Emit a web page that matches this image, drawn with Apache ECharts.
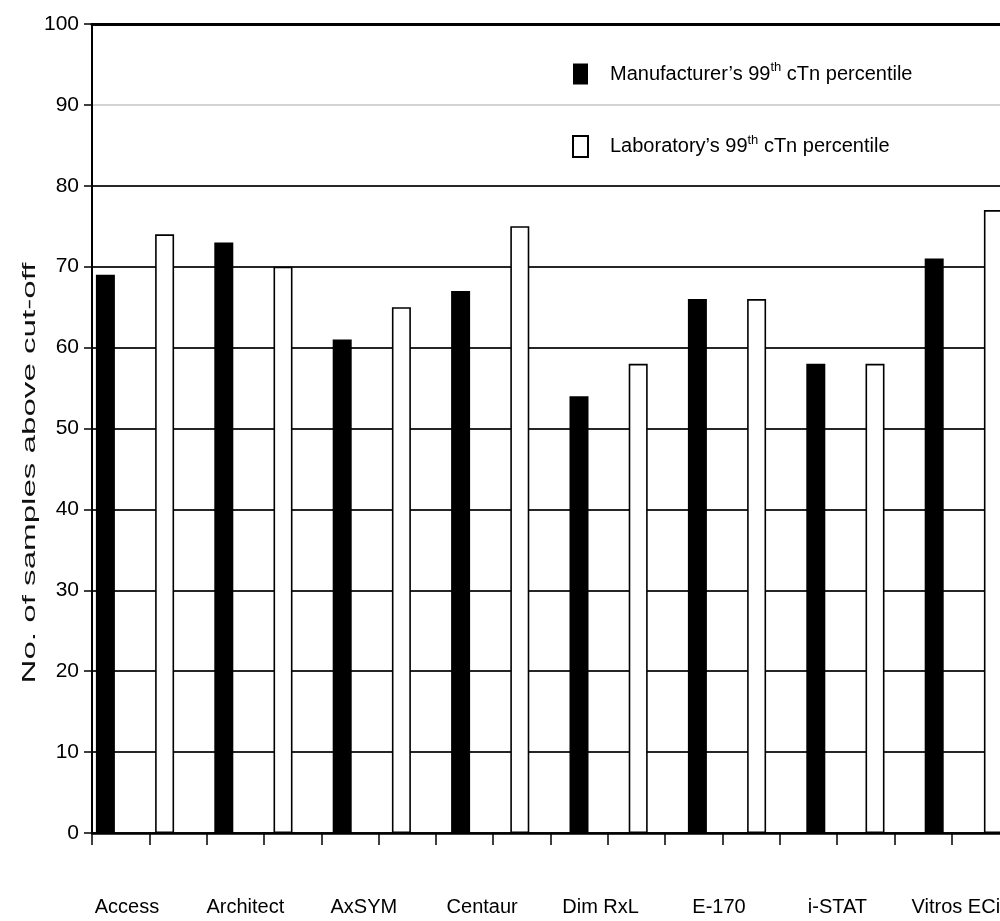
<!DOCTYPE html>
<html>
<head>
<meta charset="utf-8">
<script src="https://cdn.jsdelivr.net/npm/echarts/dist/echarts.min.js"></script>
<style>
html,body{margin:0;padding:0;background:#fff;overflow:hidden;width:1000px;height:921px;}
#chart{width:1030px;height:921px;}
</style>
</head>
<body>
<div id="chart"></div>
<script>
// ---- data ----
const categories = ['Access', 'Architect', 'AxSYM', 'Centaur', 'Dim RxL', 'E-170', 'i-STAT', 'Vitros ECi'];
const manufacturerValues = [69, 73, 61, 67, 54, 66, 58, 71];
const laboratoryValues = [74, 70, 65, 75, 58, 66, 58, 77];
const legendManufacturer = ['Manufacturer\u2019s 99', 'th', ' cTn percentile'];
const legendLaboratory = ['Laboratory\u2019s 99', 'th', ' cTn percentile'];
const yAxisTitle = 'No. of samples above cut-off';
const yMin = 0, yMax = 100, yStep = 10;
const tickSlots = ['', '', '', '', '', '', '', '', '', '', '', '', '', '', '', ''];

const FONT = '"Liberation Sans", Arial, Helvetica, sans-serif';
const nameManu = legendManufacturer.join('');
const nameLab = legendLaboratory.join('');
const legendParts = {};
legendParts[nameManu] = legendManufacturer;
legendParts[nameLab] = legendLaboratory;

const splitColors = [];
for (let v = yMin; v <= yMax; v += yStep) {
  splitColors.push(v === 90 ? '#d4d4d4' : (v === 100 ? '#000' : '#262626'));
}

const chart = echarts.init(document.getElementById('chart'), null, {renderer: 'canvas'});
chart.setOption({
  backgroundColor: '#fff',
  animation: false,
  grid: [
    {left: 92, top: 24, width: 917, height: 809},
    {left: 75.8, top: 24, width: 947.2, height: 809}
  ],
  legend: {
    orient: 'vertical',
    left: 567,
    top: 56,
    itemWidth: 15,
    itemHeight: 21,
    itemGap: 49,
    icon: 'rect',
    data: [nameManu, nameLab],
    formatter: function (n) {
      const p = legendParts[n];
      return '{a|' + p[0] + '}{sup|' + p[1] + '}{a|' + p[2] + '}';
    },
    textStyle: {
      fontFamily: FONT, fontSize: 20, color: '#000',
      padding: [0, 0, 0, 17],
      rich: {
        a: {fontFamily: FONT, fontSize: 20, lineHeight: 26, color: '#000'},
        sup: {fontFamily: FONT, fontSize: 13, lineHeight: 14, color: '#000', verticalAlign: 'top'}
      }
    }
  },
  xAxis: [
    {
      type: 'category', gridIndex: 0, position: 'bottom', data: tickSlots,
      boundaryGap: true,
      axisLine: {show: true, lineStyle: {color: '#000', width: 2.5}},
      axisTick: {show: true, length: 12, lineStyle: {color: '#000', width: 1.5}},
      axisLabel: {show: false},
      splitLine: {show: false}
    },
    {
      type: 'category', gridIndex: 0, position: 'top', data: tickSlots,
      axisLine: {show: true, lineStyle: {color: '#000', width: 3}},
      axisTick: {show: false}, axisLabel: {show: false}, splitLine: {show: false}
    },
    {
      type: 'category', gridIndex: 1, position: 'bottom', data: categories,
      axisLine: {show: false}, axisTick: {show: false}, splitLine: {show: false},
      axisLabel: {
        show: true, interval: 0, margin: 64, padding: [0, 16, 0, 0],
        fontFamily: FONT, fontSize: 20, color: '#000'
      }
    }
  ],
  yAxis: [
    {
      type: 'value', gridIndex: 0, min: yMin, max: yMax, interval: yStep,
      axisLine: {show: true, lineStyle: {color: '#000', width: 2}},
      axisTick: {show: true, length: 8, lineStyle: {color: '#000', width: 1.5}},
      axisLabel: {margin: 13, fontFamily: FONT, fontSize: 21, color: '#000'},
      splitLine: {show: true, lineStyle: {color: splitColors, width: 1.8}}
    },
    {
      type: 'value', gridIndex: 1, min: yMin, max: yMax, interval: yStep, show: false,
      splitLine: {show: false}
    }
  ],
  graphic: [
    {
      type: 'text', x: 30.5, y: 473, rotation: Math.PI / 2, scaleX: 1.84, scaleY: 1,
      style: {
        text: yAxisTitle,
        font: '18px "Liberation Sans", Arial, sans-serif',
        fill: '#111',
        align: 'center', verticalAlign: 'middle',
        textAlign: 'center', textVerticalAlign: 'middle'
      }
    }
  ],
  series: [
    {
      name: nameManu, type: 'bar', xAxisIndex: 2, yAxisIndex: 1,
      data: manufacturerValues, barWidth: 19, barGap: '211.6%',
      itemStyle: {color: '#000', borderColor: '#000', borderWidth: 0}
    },
    {
      name: nameLab, type: 'bar', xAxisIndex: 2, yAxisIndex: 1,
      data: laboratoryValues, barWidth: 19, barGap: '211.6%',
      itemStyle: {color: '#fff', borderColor: '#000', borderWidth: 1.6}
    }
  ]
});
</script>
</body>
</html>
